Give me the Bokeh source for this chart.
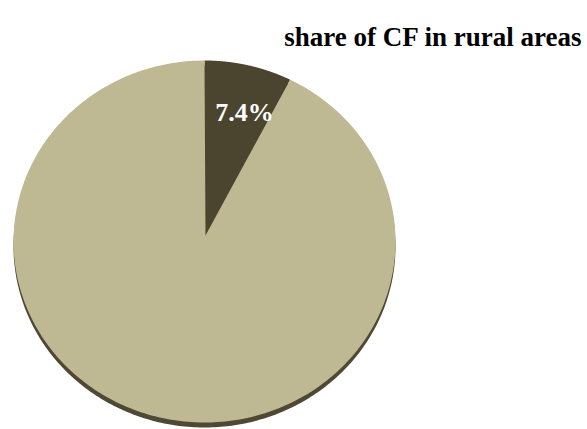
import numpy as np
from bokeh.plotting import figure
from bokeh.models import Range1d
from bokeh.core.properties import value
from bokeh.embed import file_html
from bokeh.resources import INLINE

# data
categories = ["CF in rural areas", "other"]
shares = [7.4, 92.6]
label_texts = ["7.4%"]
title_text = "share of CF in rural areas"
colors = ["#4B4530", "#BEB893"]

W, H = 587, 429
p = figure(width=W, height=H, output_backend="svg", toolbar_location=None,
           x_range=Range1d(0, W), y_range=Range1d(H, 0), min_border=0)
p.axis.visible = False
p.grid.visible = False
p.outline_line_color = None
p.background_fill_color = "white"
p.border_fill_color = "white"

cx, cy, rx, ry = 204, 241, 191, 181
ax, ay = 205, 235
total = sum(shares)
fracs = np.cumsum([0] + shares) / total

# shadow
t = np.linspace(0, 2 * np.pi, 400)
p.patch(cx + rx * np.sin(t), cy + 5 - ry * np.cos(t), fill_color="#4E4934", line_color=None)

xs, ys = [], []
for i in range(len(shares)):
    tt = np.linspace(fracs[i] * 2 * np.pi, fracs[i + 1] * 2 * np.pi, 300)
    xs.append(np.concatenate([[ax], cx + rx * np.sin(tt), [ax]]))
    ys.append(np.concatenate([[ay], cy - ry * np.cos(tt), [ay]]))
p.patches(xs, ys, fill_color=colors, line_color=None)

# slice label
p.text(x=[244], y=[112], text=label_texts, text_color="white",
       text_font=value("Liberation Serif"), text_font_style="bold",
       text_font_size="26px", text_align="center", text_baseline="alphabetic")

p.text(x=[582], y=[36], text=[title_text], text_color="black",
       text_font=value("Liberation Serif"), text_font_style="bold",
       text_font_size="27px", text_align="right", text_baseline="alphabetic")

open("out.html", "w").write(file_html(p, INLINE))
